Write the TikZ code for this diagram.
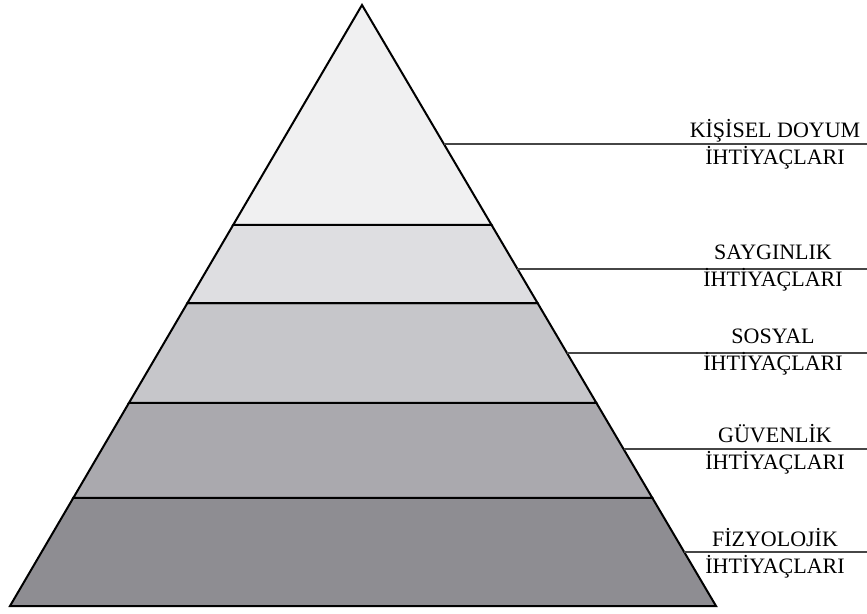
\documentclass[tikz,border=0pt]{standalone}
\usepackage{fontspec}
\setmainfont{Liberation Serif}
\usetikzlibrary{calc,positioning}
\definecolor{tierA}{RGB}{240,240,241}
\definecolor{tierB}{RGB}{222,222,225}
\definecolor{tierC}{RGB}{198,198,202}
\definecolor{tierD}{RGB}{170,169,174}
\definecolor{tierE}{RGB}{142,141,146}
\definecolor{leadgray}{RGB}{70,70,70}
\tikzset{
  tier/.style={draw=black,line width=1pt,line join=miter},
  leader/.style={draw=leadgray,line width=0.75pt},
  needlabel/.style={align=center,font=\fontsize{11}{13.5}\selectfont,inner sep=0pt}
}
\begin{document}
\begin{tikzpicture}[x=0.5pt,y=-0.5pt]
\useasboundingbox (0,0) rectangle (867,614);
\coordinate (apex) at (362,5);
\coordinate (bl) at (10,606);
\coordinate (br) at (716,606);
\coordinate (edge) at (867,0);
% tier borders
\coordinate (l1) at ($(apex)!0.366!(bl)$);
\coordinate (r1) at ($(apex)!0.366!(br)$);
\coordinate (l2) at ($(apex)!0.496!(bl)$);
\coordinate (r2) at ($(apex)!0.496!(br)$);
\coordinate (l3) at ($(apex)!0.662!(bl)$);
\coordinate (r3) at ($(apex)!0.662!(br)$);
\coordinate (l4) at ($(apex)!0.820!(bl)$);
\coordinate (r4) at ($(apex)!0.820!(br)$);
\filldraw[tier,fill=tierE] (l4) -- (r4) -- (br) -- (bl) -- cycle;
\filldraw[tier,fill=tierD] (l3) -- (r3) -- (r4) -- (l4) -- cycle;
\filldraw[tier,fill=tierC] (l2) -- (r2) -- (r3) -- (l3) -- cycle;
\filldraw[tier,fill=tierB] (l1) -- (r1) -- (r2) -- (l2) -- cycle;
\filldraw[tier,fill=tierA] (apex) -- (r1) -- (l1) -- cycle;
% leader lines
\coordinate (s1) at ($(apex)!0.231!(br)$);
\coordinate (s2) at ($(apex)!0.439!(br)$);
\coordinate (s3) at ($(apex)!0.579!(br)$);
\coordinate (s4) at ($(apex)!0.739!(br)$);
\coordinate (s5) at ($(apex)!0.910!(br)$);
\coordinate (t1) at (s1 -| edge);
\coordinate (t2) at (s2 -| edge);
\coordinate (t3) at (s3 -| edge);
\coordinate (t4) at (s4 -| edge);
\coordinate (t5) at (s5 -| edge);
\draw[leader] (s1) -- (t1);
\draw[leader] (s2) -- (t2);
\draw[leader] (s3) -- (t3);
\draw[leader] (s4) -- (t4);
\draw[leader] (s5) -- (t5);
% labels
\node[needlabel] (selfneed) at (775,144) {KİŞİSEL DOYUM\\İHTİYAÇLARI};
\node[needlabel] (esteemneed) at (773,268) {SAYGINLIK\\İHTİYAÇLARI};
\node[needlabel] (socialneed) at (773,352) {SOSYAL\\İHTİYAÇLARI};
\node[needlabel] (safetyneed) at (775,449) {GÜVENLİK\\İHTİYAÇLARI};
\node[needlabel] (bodyneed) at (775,553) {FİZYOLOJİK\\İHTİYAÇLARI};
\end{tikzpicture}
\end{document}
